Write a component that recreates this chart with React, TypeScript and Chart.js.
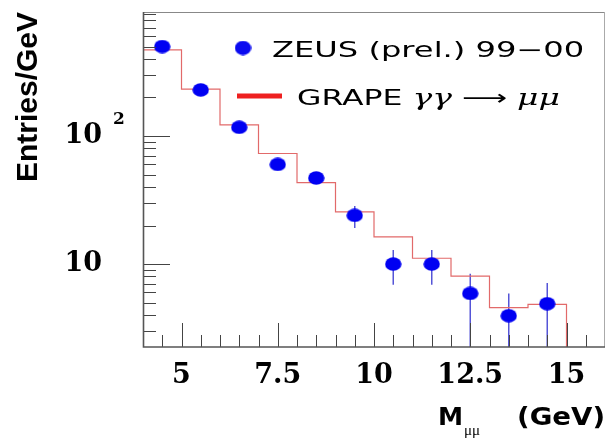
import React, { useEffect, useRef } from 'react';
import { Chart, registerables } from 'chart.js';
Chart.register(...registerables);

// ---- data ----
const binCenters = [4.5, 5.5, 6.5, 7.5, 8.5, 9.5, 10.5, 11.5, 12.5, 13.5, 14.5];
const zeusValues = [500, 229, 117, 60, 47, 24, 10, 10, 5.9, 3.95, 4.9];
const zeusErrLow = [480, 216, 108, 55, 43, 19.1, 6.9, 6.9, 2.0, 2.0, 2.0];
const zeusErrHigh = [520, 242, 126, 65, 51, 28.4, 12.9, 12.9, 8.4, 5.9, 7.1];

const grapeEdges = [4, 5, 6, 7, 8, 9, 10, 11, 12, 13, 14, 15];
const grapeValues = [470, 232, 122, 73, 43.3, 25.6, 16.3, 11.1, 8.06, 4.56, 4.84];

const xMin = 4;
const xMax = 16;
const xStep = 0.5;
const xTickLabels = [5, 7.5, 10, 12.5, 15];

const yMin = 2.25;
const yMax = 930;
const yMajorTicks = [10, 100];
const yMajorLabels = ['10', '10'];
const yMajorSuperscripts = ['', '2'];
const yMinorTicks = [3, 4, 5, 6, 7, 8, 9, 20, 30, 40, 50, 60, 70, 80, 90, 200, 300, 400, 500, 600, 700, 800, 900];

const zeusLabel = 'ZEUS (prel.) 99\u221200';
const grapeLabelParts = ['GRAPE ', '\u03b3\u03b3', ' \u27f6 ', '\u03bc\u03bc'];
const yTitle = 'Entries/GeV';
const xTitleMain = 'M';
const xTitleSub = '\u03bc\u03bc';
const xTitleUnit = '(GeV)';

function makeEllipse(w: number, h: number, color: string) {
  const c = document.createElement('canvas');
  c.width = w;
  c.height = h;
  const g = c.getContext('2d')!;
  g.fillStyle = color;
  g.beginPath();
  g.ellipse(w / 2, h / 2, w / 2 - 0.3, h / 2 - 0.3, 0, 0, Math.PI * 2);
  g.fill();
  return c;
}

function stretchedText(ctx: CanvasRenderingContext2D, text: string, x: number, y: number, sx: number) {
  ctx.save();
  ctx.translate(x, y);
  ctx.scale(sx, 1);
  ctx.fillText(text, 0, 0);
  const w = ctx.measureText(text).width * sx;
  ctx.restore();
  return w;
}

export default function App() {
  const ref = useRef<HTMLCanvasElement>(null);

  useEffect(() => {
    const canvas = ref.current!;
    const marker = makeEllipse(17, 14, '#0000f2');
    const legendMarker = makeEllipse(17, 15, '#0a0af0');

    const grapePoints = [
      { x: grapeEdges[0], y: yMin },
      ...grapeValues.map((v, i) => ({ x: grapeEdges[i + 1], y: v })),
      { x: grapeEdges[grapeEdges.length - 1], y: yMin },
    ];
    const zeusPoints = binCenters.map((c, i) => ({ x: c, y: zeusValues[i] }));

    const errorBars = {
      id: 'errorBars',
      beforeDatasetsDraw(chart: any) {
        const { ctx, chartArea: a, scales } = chart;
        const xs = scales.x;
        const ys = scales.y;
        ctx.save();
        ctx.beginPath();
        ctx.rect(a.left, a.top, a.right - a.left, a.bottom - a.top);
        ctx.clip();
        ctx.strokeStyle = 'rgb(85,85,215)';
        ctx.lineWidth = 1.5;
        binCenters.forEach((c, i) => {
          const px = xs.getPixelForValue(c);
          ctx.beginPath();
          ctx.moveTo(px, ys.getPixelForValue(zeusErrLow[i]));
          ctx.lineTo(px, ys.getPixelForValue(zeusErrHigh[i]));
          ctx.stroke();
        });
        ctx.restore();
      },
    };

    const frameTicks = {
      id: 'frameTicks',
      afterDatasetsDraw(chart: any) {
        const { ctx, chartArea: a, scales } = chart;
        const xs = scales.x;
        const ys = scales.y;
        ctx.save();
        ctx.lineWidth = 1;
        ctx.strokeStyle = '#444';
        xs.ticks.forEach((t: any) => {
          const v = t.value;
          if (v <= xMin || v >= xMax) return;
          const major = xTickLabels.includes(v);
          const px = Math.round(xs.getPixelForValue(v)) + 0.5;
          ctx.beginPath();
          ctx.moveTo(px, a.bottom);
          ctx.lineTo(px, a.bottom - (major ? 24 : 12));
          ctx.stroke();
        });
        ys.ticks.forEach((t: any) => {
          const v = t.value;
          const major = yMajorTicks.includes(v);
          const py = Math.round(ys.getPixelForValue(v)) + 0.5;
          ctx.beginPath();
          ctx.moveTo(a.left, py);
          ctx.lineTo(a.left + (major ? 27 : 13), py);
          ctx.stroke();
        });
        // frame
        ctx.strokeStyle = '#888';
        ctx.beginPath();
        ctx.moveTo(a.left, a.top + 0.5);
        ctx.lineTo(a.right, a.top + 0.5);
        ctx.stroke();
        ctx.strokeStyle = '#aaa';
        ctx.beginPath();
        ctx.moveTo(a.right - 0.5, a.top);
        ctx.lineTo(a.right - 0.5, a.bottom);
        ctx.stroke();
        ctx.strokeStyle = '#555';
        ctx.lineWidth = 1.6;
        ctx.beginPath();
        ctx.moveTo(a.left + 0.5, a.top);
        ctx.lineTo(a.left + 0.5, a.bottom);
        ctx.lineTo(a.right, a.bottom);
        ctx.stroke();
        ctx.restore();
      },
    };

    const annotations = {
      id: 'annotations',
      afterDraw(chart: any) {
        const { ctx, chartArea: a, scales } = chart;
        const ys = scales.y;
        ctx.save();
        ctx.fillStyle = '#000';
        ctx.textBaseline = 'alphabetic';
        ctx.textAlign = 'left';

        // superscripts of y tick labels
        ctx.font = 'bold 17px "DejaVu Serif"';
        yMajorTicks.forEach((v, i) => {
          const s = yMajorSuperscripts[i];
          if (!s) return;
          ctx.fillText(s, a.left - 30, ys.getPixelForValue(v) - 12);
        });

        // legend
        const lx = a.left + 100;
        ctx.drawImage(legendMarker, lx - legendMarker.width / 2, a.top + 36 - legendMarker.height / 2);
        ctx.font = '21px "DejaVu Sans"';
        stretchedText(ctx, zeusLabel, a.left + 129, a.top + 45, 1.53);

        ctx.strokeStyle = '#ee2020';
        ctx.lineWidth = 5;
        ctx.beginPath();
        ctx.moveTo(a.left + 94, a.top + 84);
        ctx.lineTo(a.left + 139, a.top + 84);
        ctx.stroke();
        let gx = a.left + 154;
        const gy = a.top + 93;
        grapeLabelParts.forEach((p, i) => {
          ctx.font = i % 2 === 1 ? 'italic 22px "DejaVu Serif"' : '21px "DejaVu Sans"';
          gx += stretchedText(ctx, p, gx, gy, 1.5);
        });

        // x title
        const base = a.bottom + 78;
        ctx.font = 'bold 24px "DejaVu Sans"';
        ctx.textAlign = 'left';
        const unitW = ctx.measureText(xTitleUnit).width * 1.15;
        stretchedText(ctx, xTitleUnit, a.right - unitW, base, 1.15);
        const mx = a.right - 167;
        const mW = stretchedText(ctx, xTitleMain, mx, base, 1.05);
        ctx.font = '15px "Liberation Serif"';
        stretchedText(ctx, xTitleSub, mx + mW + 1, base + 10, 1.0);
        ctx.restore();
      },
    };

    const chart = new Chart(canvas, {
      type: 'scatter',
      data: {
        datasets: [
          {
            label: zeusLabel,
            data: zeusPoints,
            pointStyle: marker as any,
            pointRadius: 8,
            pointHoverRadius: 8,
            backgroundColor: '#0000f2',
            borderColor: '#0000f2',
            showLine: false,
          },
          {
            label: 'GRAPE',
            data: grapePoints,
            showLine: true,
            stepped: 'after',
            pointRadius: 0,
            borderColor: '#e26a6a',
            borderWidth: 1.2,
            fill: false,
          } as any,
        ],
      },
      options: {
        responsive: false,
        animation: false,
        events: [],
        layout: { autoPadding: false, padding: { top: 12, right: 2, left: 0, bottom: 0 } },
        plugins: {
          legend: { display: false },
          tooltip: { enabled: false },
          title: { display: false },
        },
        scales: {
          x: {
            type: 'linear',
            min: xMin,
            max: xMax,
            grid: { display: false, drawTicks: false },
            border: { display: false },
            afterFit: (s: any) => {
              s.height = 95;
              s.paddingLeft = 0;
              s.paddingRight = 0;
              s.paddingTop = 0;
              s.paddingBottom = 0;
            },
            ticks: {
              stepSize: xStep,
              autoSkip: false,
              maxRotation: 0,
              minRotation: 0,
              padding: 13,
              color: '#000',
              font: { family: '"DejaVu Serif"', size: 27, weight: 'bold' },
              callback: (v: any) => (xTickLabels.includes(Number(v)) ? String(v) : ''),
            },
          },
          y: {
            type: 'logarithmic',
            min: yMin,
            max: yMax,
            grid: { display: false, drawTicks: false },
            border: { display: false },
            afterFit: (s: any) => {
              s.width = 143;
              s.paddingLeft = 0;
              s.paddingRight = 0;
              s.paddingTop = 0;
              s.paddingBottom = 0;
            },
            afterBuildTicks: (s: any) => {
              s.ticks = [...yMinorTicks, ...yMajorTicks]
                .sort((p, q) => p - q)
                .map((v) => ({ value: v, major: yMajorTicks.includes(v) }));
            },
            ticks: {
              autoSkip: false,
              padding: 41,
              color: '#000',
              font: { family: '"DejaVu Serif"', size: 27, weight: 'bold' },
              callback: (v: any) => {
                const i = yMajorTicks.indexOf(Number(v));
                return i >= 0 ? yMajorLabels[i] : '';
              },
            },
            title: {
              display: true,
              text: yTitle,
              align: 'end',
              color: '#000',
              font: { family: '"Liberation Sans"', size: 30, weight: 'bold' },
              padding: { top: 11, bottom: 0 },
            },
          },
        },
      } as any,
      plugins: [errorBars, frameTicks, annotations],
    });

    return () => chart.destroy();
  }, []);

  return (
    <div style={{ position: 'fixed', left: 0, top: 0, width: 607, height: 442, background: '#fff' }}>
      <canvas ref={ref} width={607} height={442} style={{ display: 'block' }} />
    </div>
  );
}
